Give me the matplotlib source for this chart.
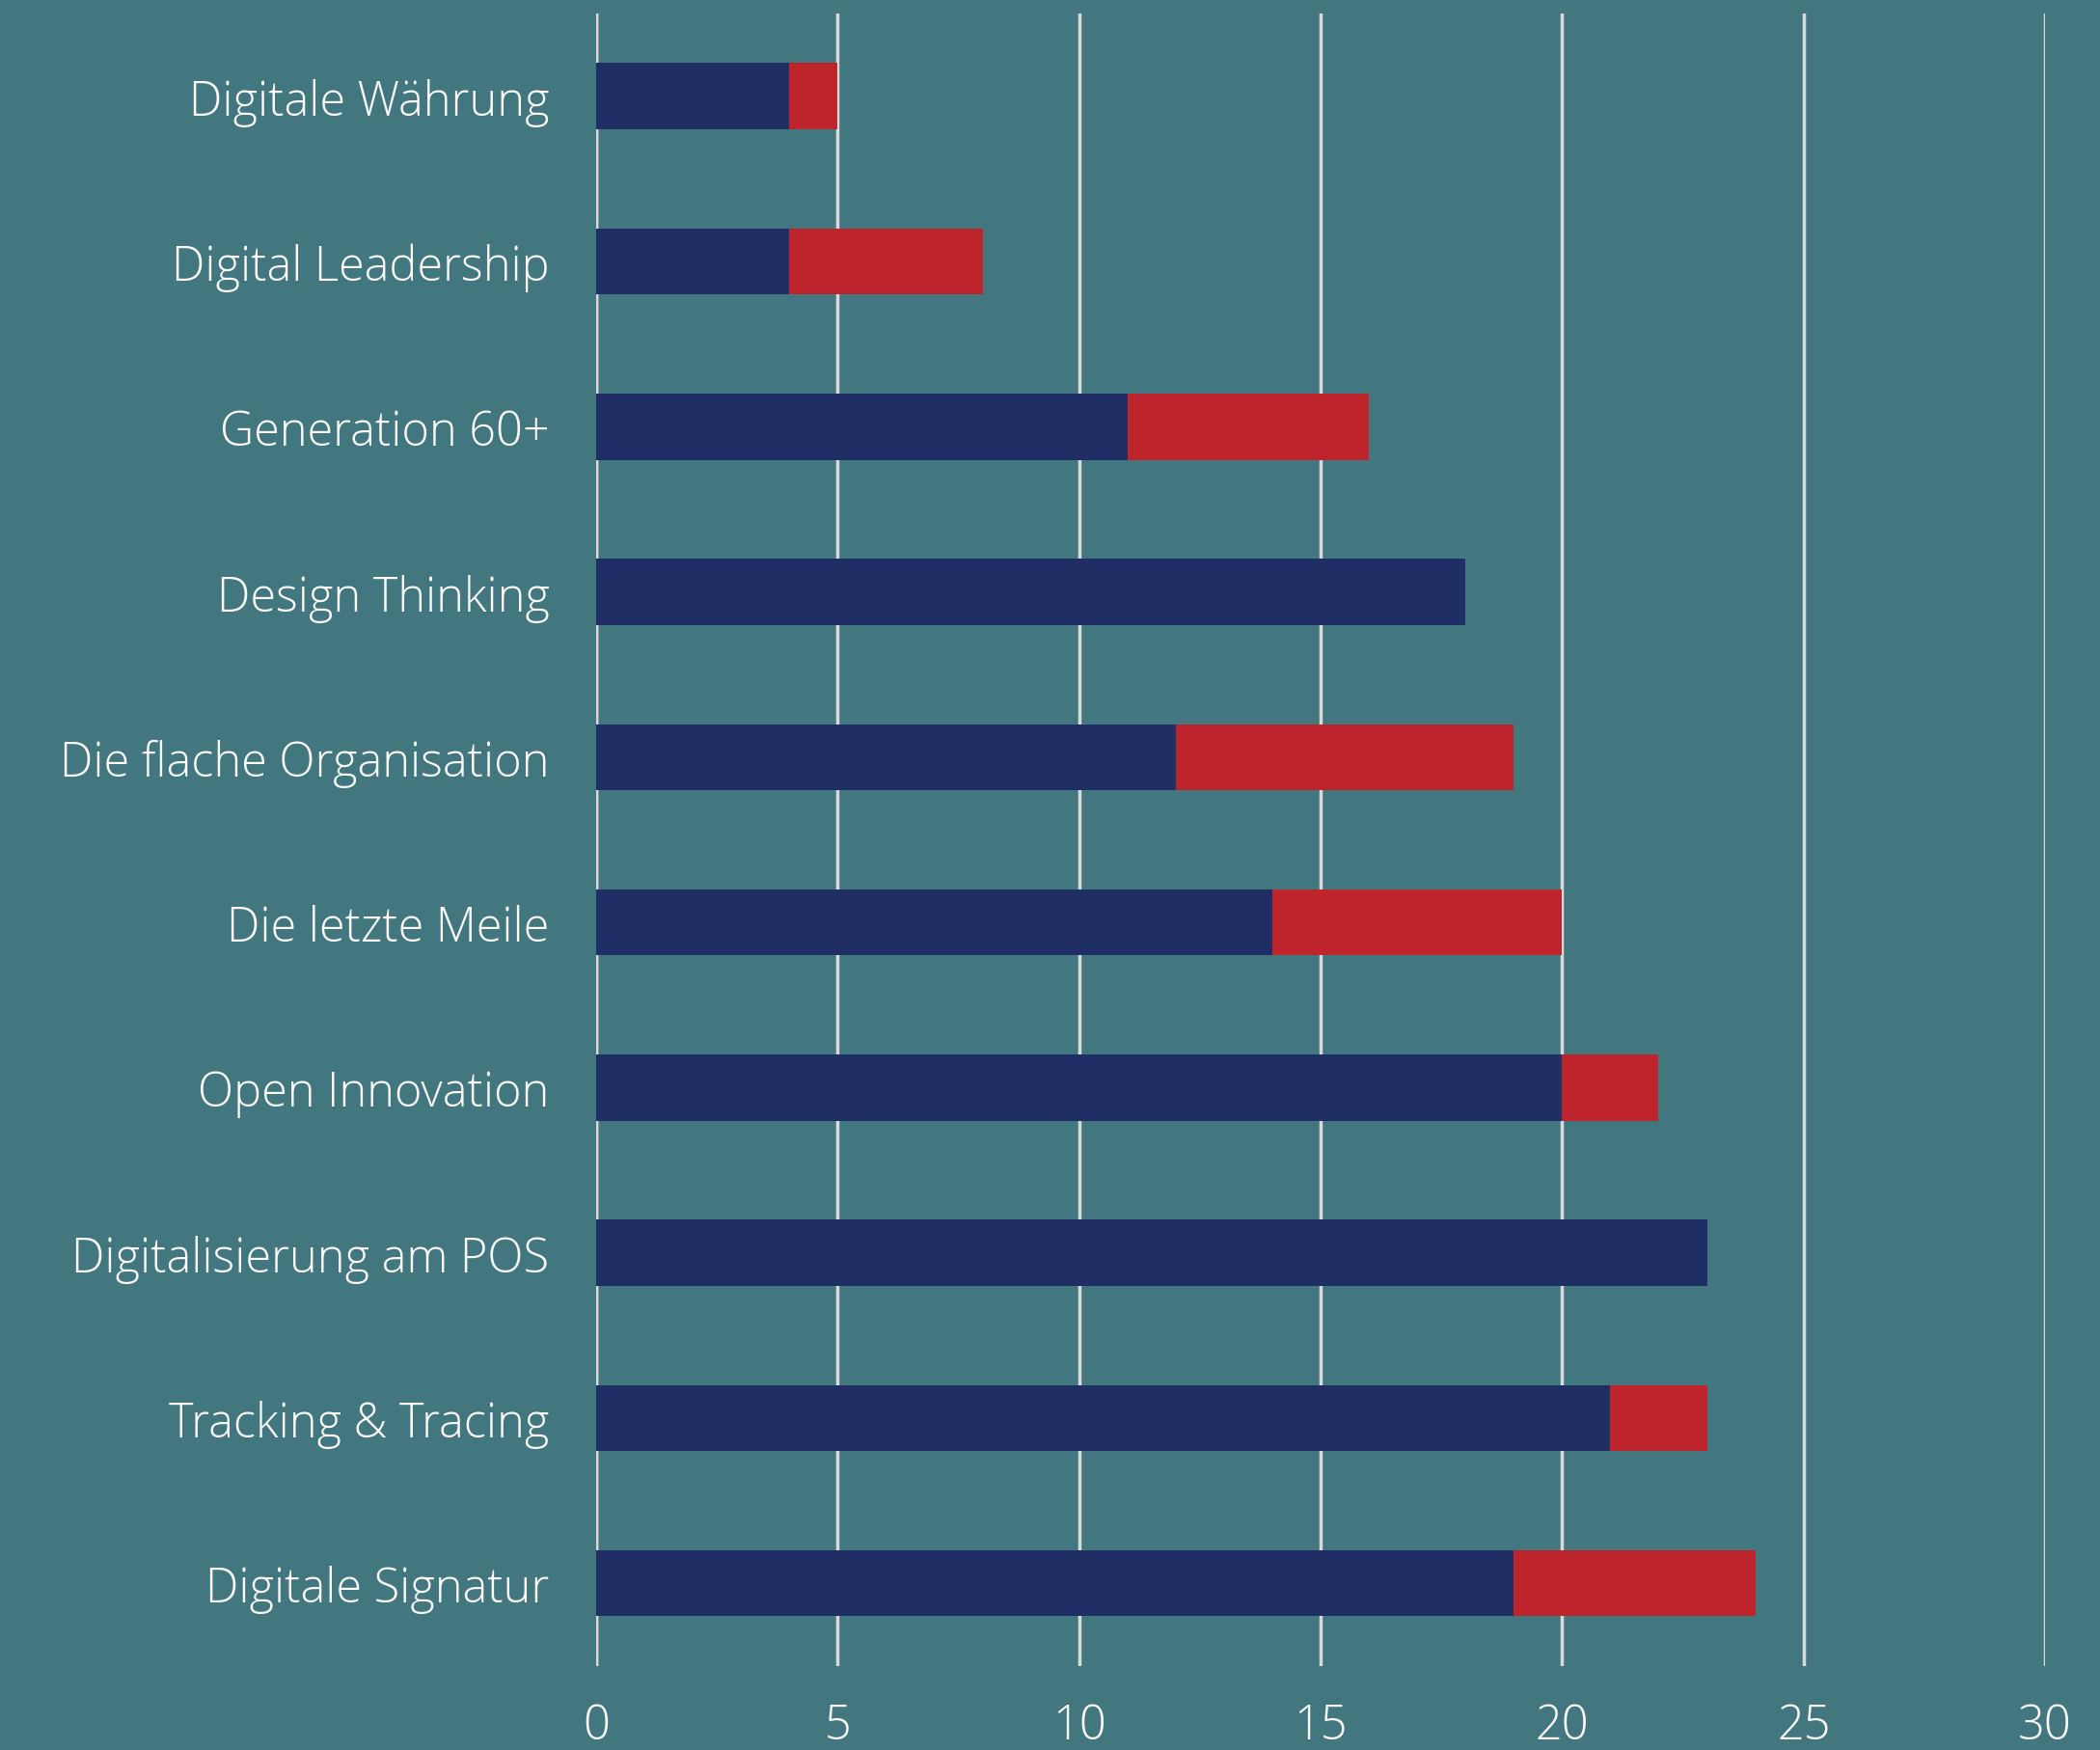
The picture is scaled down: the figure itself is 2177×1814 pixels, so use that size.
import numpy as np
import matplotlib.pyplot as plt
from matplotlib import font_manager

# data
categories = ["Digitale Währung", "Digital Leadership", "Generation 60+", "Design Thinking",
              "Die flache Organisation", "Die letzte Meile", "Open Innovation",
              "Digitalisierung am POS", "Tracking & Tracing", "Digitale Signatur"]
blue_vals = [4, 4, 11, 18, 12, 14, 20, 23, 21, 19]
red_vals = [1, 4, 5, 0, 7, 6, 2, 0, 2, 5]
xticks = [0, 5, 10, 15, 20, 25, 30]

bg = "#43777f"
navy = "#1f2f66"
red = "#be242b"
grid_col = "#d9d9d9"

names = {f.name for f in font_manager.fontManager.ttflist}
fam = "Open Sans" if "Open Sans" in names else "DejaVu Sans"
plt.rcParams['font.family'] = [fam, 'DejaVu Sans']

fig = plt.figure(figsize=(21.77, 18.15), dpi=100, facecolor=bg)
ax = fig.add_axes([0.2839, 0.048, 0.6899, 0.9437], facecolor=bg)

y = np.arange(len(categories))
ax.barh(y, blue_vals, height=0.4, color=navy, zorder=3)
ax.barh(y, red_vals, left=blue_vals, height=0.4, color=red, zorder=3)

ax.set_xlim(0, 30)
ax.set_ylim(len(categories) - 0.5, -0.5)
ax.set_xticks(xticks)
ax.set_yticks(y)
ax.set_yticklabels(categories)
ax.xaxis.grid(True, color=grid_col, linewidth=2.5, zorder=1)
ax.set_axisbelow(True)
ax.axvline(0, color=grid_col, linewidth=2.5, zorder=1)

for s in ax.spines.values():
    s.set_visible(False)
ax.tick_params(axis='both', length=0, colors='white', labelsize=35)
ax.tick_params(axis='y', pad=35)
ax.tick_params(axis='x', pad=27)
for lab in ax.get_xticklabels() + ax.get_yticklabels():
    lab.set_fontweight('light')

fig.savefig("out.png", dpi=100, facecolor=bg)
